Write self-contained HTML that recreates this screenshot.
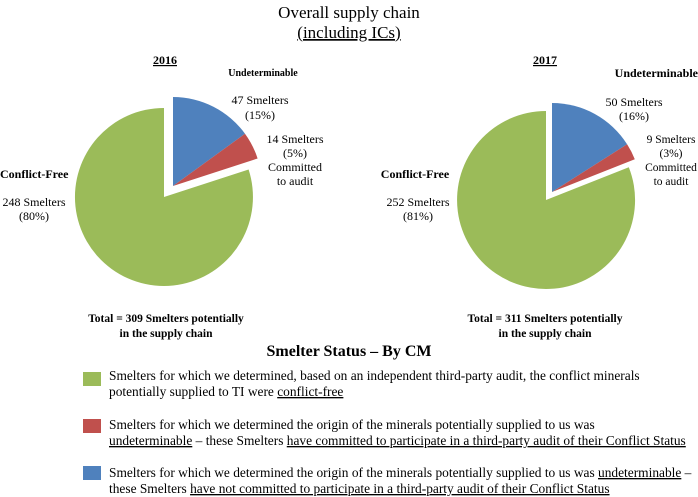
<!DOCTYPE html>
<html><head><style>
body{margin:0;background:#fff;}
svg{display:block;font-family:"Liberation Serif",serif;}
</style></head><body>
<svg width="698" height="497" viewBox="0 0 698 497">
<text x="349" y="18" font-size="17" text-anchor="middle">Overall supply chain</text>
<text x="349" y="38" font-size="17" text-anchor="middle" text-decoration="underline">(including ICs)</text>

<!-- 2016 -->
<path d="M173,186 L173,97 A89,89 0 0,1 245,133.7 Z" fill="#4f81bd"/>
<path d="M173,186 L245,133.7 A89,89 0 0,1 257.6,158.5 Z" fill="#c0504d"/>
<path d="M164,197 L248.6,169.5 A89,89 0 1,1 164,108 Z" fill="#9bbb59"/>
<text x="165" y="64" font-size="12" font-weight="bold" text-anchor="middle" text-decoration="underline">2016</text>
<text x="263" y="76" font-size="10" font-weight="bold" text-anchor="middle">Undeterminable</text>
<text x="260" y="104" font-size="12" text-anchor="middle">47 Smelters</text>
<text x="260" y="119" font-size="12" text-anchor="middle">(15%)</text>
<text x="295" y="143" font-size="12" text-anchor="middle">14 Smelters</text>
<text x="295" y="157" font-size="12" text-anchor="middle">(5%)</text>
<text x="295" y="171" font-size="12" text-anchor="middle">Committed</text>
<text x="295" y="185" font-size="12" text-anchor="middle">to audit</text>
<text x="0" y="178" font-size="12" font-weight="bold">Conflict-Free</text>
<text x="34" y="206" font-size="12" text-anchor="middle">248 Smelters</text>
<text x="34" y="220" font-size="12" text-anchor="middle">(80%)</text>
<text x="166" y="322" font-size="11.5" font-weight="bold" text-anchor="middle">Total = 309 Smelters potentially</text>
<text x="166" y="337" font-size="11.5" font-weight="bold" text-anchor="middle">in the supply chain</text>

<!-- 2017 -->
<path d="M552,192 L552,103 A89,89 0 0,1 627.1,144.3 Z" fill="#4f81bd"/>
<path d="M552,192 L627.1,144.3 A89,89 0 0,1 634.8,159.2 Z" fill="#c0504d"/>
<path d="M546,200 L628.8,167.2 A89,89 0 1,1 546,111 Z" fill="#9bbb59"/>
<text x="545" y="64" font-size="12" font-weight="bold" text-anchor="middle" text-decoration="underline">2017</text>
<text x="698" y="77" font-size="12" font-weight="bold" text-anchor="end">Undeterminable</text>
<text x="634" y="106" font-size="12" text-anchor="middle">50 Smelters</text>
<text x="634" y="120" font-size="12" text-anchor="middle">(16%)</text>
<text x="671" y="143" font-size="11.5" text-anchor="middle">9 Smelters</text>
<text x="671" y="157" font-size="11.5" text-anchor="middle">(3%)</text>
<text x="671" y="171" font-size="11.5" text-anchor="middle">Committed</text>
<text x="671" y="185" font-size="11.5" text-anchor="middle">to audit</text>
<text x="415" y="178" font-size="12" font-weight="bold" text-anchor="middle">Conflict-Free</text>
<text x="418" y="206" font-size="12" text-anchor="middle">252 Smelters</text>
<text x="418" y="220" font-size="12" text-anchor="middle">(81%)</text>
<text x="545" y="322" font-size="11.5" font-weight="bold" text-anchor="middle">Total = 311 Smelters potentially</text>
<text x="545" y="337" font-size="11.5" font-weight="bold" text-anchor="middle">in the supply chain</text>

<!-- Legend -->
<text x="349" y="356" font-size="16" font-weight="bold" text-anchor="middle">Smelter Status – By CM</text>
<rect x="83" y="372" width="18" height="14" fill="#9bbb59"/>
<rect x="83" y="419" width="18" height="14" fill="#c0504d"/>
<rect x="83" y="466" width="18" height="14" fill="#4f81bd"/>
<g font-size="13.4">
<text x="109" y="380">Smelters for which we determined, based on an independent third-party audit, the conflict minerals</text>
<text x="109" y="396">potentially supplied to TI were <tspan text-decoration="underline">conflict-free</tspan></text>
<text x="109" y="429">Smelters for which we determined the origin of the minerals potentially supplied to us was</text>
<text x="109" y="445"><tspan text-decoration="underline">undeterminable</tspan> – these Smelters <tspan text-decoration="underline">have committed to participate in a third-party audit of their Conflict Status</tspan></text>
<text x="109" y="477">Smelters for which we determined the origin of the minerals potentially supplied to us was <tspan text-decoration="underline">undeterminable</tspan> –</text>
<text x="109" y="493">these Smelters <tspan text-decoration="underline">have not committed to participate in a third-party audit of their Conflict Status</tspan></text>
</g>
</svg>
</body></html>
